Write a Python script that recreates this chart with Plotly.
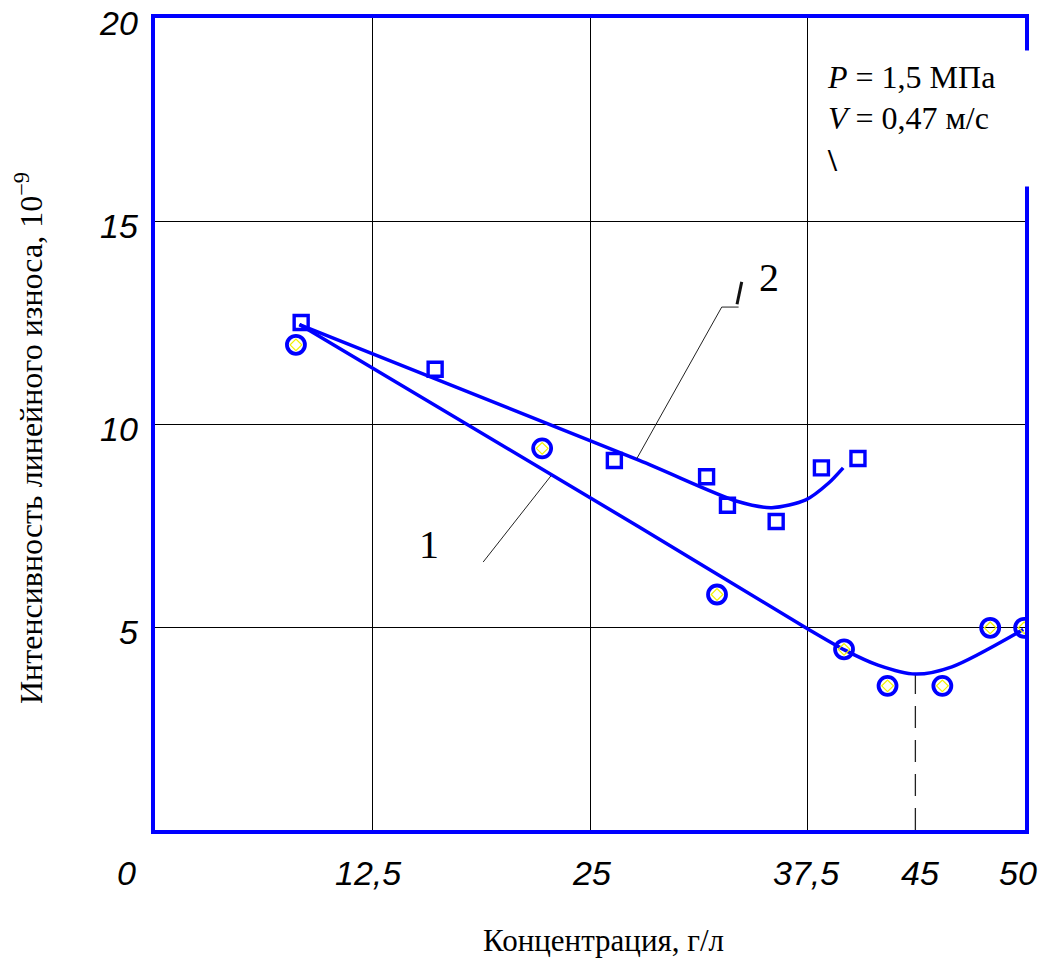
import plotly.graph_objects as go

# ---------------- data ----------------
# series 2 (squares)
conc_sq = [8.4, 16.1, 26.4, 31.7, 32.9, 35.7, 38.3, 40.4]
wear_sq = [12.5, 11.35, 9.1, 8.7, 8.0, 7.6, 8.92, 9.15]
# series 1 (circles)
conc_ci = [8.1, 22.25, 32.3, 39.6, 42.1, 45.25, 48.0, 49.95]
wear_ci = [11.95, 9.4, 5.8, 4.45, 3.55, 3.55, 4.98, 4.98]

# fitted curves
fit2_x = [8.3, 27.8, 33.5, 35.45, 37.4, 38.7, 39.55]
fit2_y = [12.45, 9.11, 8.09, 7.94, 8.13, 8.54, 8.92]
fit1_x = [8.3, 27.8, 37.45, 39.65, 41.55, 43.7, 45.8, 49.9]
fit1_y = [12.45, 7.47, 4.97, 4.43, 4.06, 3.84, 4.02, 4.94]

# minimum of curve 1 (dashed marker)
min1_x = 43.7
min1_y = 3.84

# tick labels
x_tick_vals = [0, 12.5, 25, 37.5, 45, 50]
x_tick_text = ["0", "12,5", "25", "37,5", "45", "50"]
y_tick_vals = [5, 10, 15, 20]
y_tick_text = ["5", "10", "15", "20"]

x_title = "Концентрация, г/л"
y_title = "Интенсивность линейного износа, 10<sup>−9</sup>"
box_text = "<i>P</i> = 1,5 МПа<br><i>V</i> = 0,47 м/с<br><b>\\</b>"

# ---------------- styles ----------------
BLUE = "#0000FF"
SERIF = "Liberation Serif, Times New Roman, serif"
SANS = "Liberation Sans, Arial, sans-serif"
x_label_shift = {0: -29, 12.5: -5, 25: 1, 37.5: -2, 45: -18, 50: -7}

fig = go.Figure()

fig.add_trace(go.Scatter(x=fit2_x, y=fit2_y, mode="lines",
                         line=dict(color=BLUE, width=3.5, shape="spline", smoothing=0.8),
                         hoverinfo="skip", showlegend=False))
fig.add_trace(go.Scatter(x=fit1_x, y=fit1_y, mode="lines",
                         line=dict(color=BLUE, width=3.5, shape="spline", smoothing=0.8),
                         hoverinfo="skip", showlegend=False))
fig.add_trace(go.Scatter(x=conc_sq, y=wear_sq, mode="markers",
                         marker=dict(symbol="square-open", size=14, color=BLUE,
                                     line=dict(width=3.4, color=BLUE)),
                         showlegend=False))
fig.add_trace(go.Scatter(x=conc_ci, y=wear_ci, mode="markers",
                         marker=dict(symbol="circle-open", size=18, color=BLUE,
                                     line=dict(width=3.8, color=BLUE)),
                         showlegend=False))
fig.add_trace(go.Scatter(x=conc_ci, y=wear_ci, mode="markers",
                         marker=dict(symbol="diamond-open", size=9, color="#F2F200",
                                     line=dict(width=1.2, color="#F2F200")),
                         hoverinfo="skip", showlegend=False))

shapes = []
# dashed line at curve-1 minimum
shapes.append(dict(type="line", xref="x", yref="y", x0=min1_x, x1=min1_x, y0=0, y1=min1_y,
                   line=dict(color="#222", width=1.3, dash="22px,12px"), layer="below"))
# leader line for "2"
shapes.append(dict(type="path", xref="x", yref="y",
                   path="M 27.68 9.14 L 32.57 12.88 L 33.54 12.88",
                   line=dict(color="#222", width=1)))
# leader line for "1"
shapes.append(dict(type="line", xref="x", yref="y", x0=22.75, y0=8.72, x1=18.86, y1=6.60,
                   line=dict(color="#222", width=1)))
# small stroke fragment next to "2"
shapes.append(dict(type="line", xref="x", yref="y", x0=33.45, y0=12.95, x1=33.72, y1=13.5,
                   line=dict(color="#111", width=3)))
fig.update_layout(shapes=shapes)

ann = []
for v, t in zip(x_tick_vals, x_tick_text):
    ann.append(dict(x=v, y=0, xref="x", yref="paper", text=t, showarrow=False,
                    xanchor="center", yanchor="middle", yshift=-43, xshift=x_label_shift[v],
                    font=dict(family=SANS, size=34, color="black", style="italic")))
for v, t in zip(y_tick_vals, y_tick_text):
    ann.append(dict(x=0, y=v, xref="paper", yref="y", text=t, showarrow=False,
                    xanchor="right", yanchor="middle", xshift=-15, yshift=-5,
                    font=dict(family=SANS, size=34, color="black", style="italic")))
# curve labels
ann.append(dict(x=35.27, y=13.6, xref="x", yref="y", text="2", showarrow=False,
                font=dict(family=SERIF, size=40, color="black")))
ann.append(dict(x=15.77, y=7.02, xref="x", yref="y", text="1", showarrow=False,
                font=dict(family=SERIF, size=40, color="black")))
# parameter box
ann.append(dict(x=0.7715, y=0.9606, xref="paper", yref="paper", text=box_text,
                showarrow=False, xanchor="left", yanchor="top", align="left",
                width=210, height=135, valign="middle", bgcolor="white", borderpad=0,
                font=dict(family=SERIF, size=32, color="black")))
# axis titles
ann.append(dict(x=0.5, y=0, xref="paper", yref="paper", text=x_title, showarrow=False,
                xanchor="center", yanchor="middle", yshift=-110, xshift=13,
                font=dict(family=SERIF, size=31, color="black")))
ann.append(dict(x=0, y=0.5, xref="paper", yref="paper", text=y_title, showarrow=False,
                textangle=-90, xanchor="center", yanchor="middle", xshift=-126, yshift=-14,
                font=dict(family=SERIF, size=32, color="black")))
fig.update_layout(annotations=ann)

fig.update_xaxes(range=[0, 50], tickvals=[12.5, 25, 37.5], showticklabels=False, ticks="",
                 showgrid=True, gridcolor="black", gridwidth=1, zeroline=False,
                 showline=True, linecolor=BLUE, linewidth=3.5, mirror=True)
fig.update_yaxes(range=[0, 20], tickvals=[5, 10, 15], showticklabels=False, ticks="",
                 showgrid=True, gridcolor="black", gridwidth=1, zeroline=False,
                 showline=True, linecolor=BLUE, linewidth=3.5, mirror=True)

fig.update_layout(width=1041, height=958, plot_bgcolor="white", paper_bgcolor="white",
                  margin=dict(l=155, r=14, t=18, b=128), showlegend=False)

fig.write_html("out.html", config={"displayModeBar": False},
               post_script="document.body.style.margin='0';")
